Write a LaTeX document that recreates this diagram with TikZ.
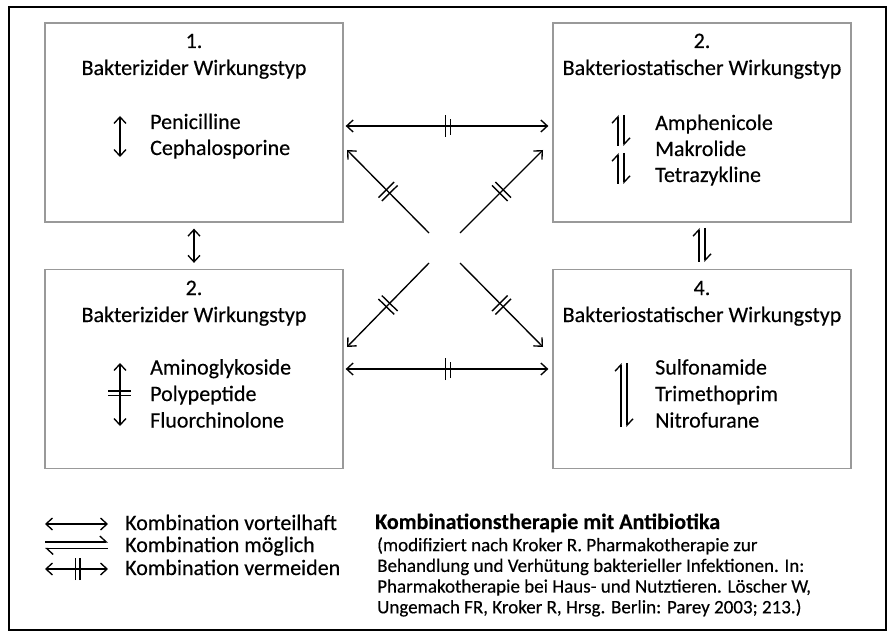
\documentclass[tikz,border=0pt]{standalone}
\usepackage{fontspec}
\setmainfont{Carlito}[FakeBold=0.35]
\usetikzlibrary{arrows.meta,decorations.markings}
\tikzset{
  x = 1pt,
  y = -1pt, % y runs down the page, as in the scan
  box/.style = { % 'box' node style for the four groups
    draw = gray!80, % light grey frame
    line width = 1.3pt,
    minimum width = 298pt, % all boxes the same size
    minimum height = 199pt,
    inner sep = 0pt,
  },
  txt/.style = { % common text settings
    font = \fontsize{22}{26}\selectfont,
    inner sep = 0pt,
  },
  head/.style = {txt, anchor = base}, % centred heading in a box
  drug/.style = {txt, anchor = base west}, % left aligned drug names
  link/.style = { % plain line with arrows
    line width = 1.35pt,
  },
  both/.style = { % arrow at each end
    link,
    {Straight Barb[length=6.5pt,width=12pt]}-{Straight Barb[length=6.5pt,width=12pt]},
  },
  one/.style = { % arrow at the end only
    link,
    -{Straight Barb[length=6.5pt,width=12pt]},
  },
  harp/.style = { % one sided tip (harpoon)
    link,
    -{Straight Barb[left,length=6.5pt,width=12pt]},
  },
  avoid/.style = { % two short bars across a line, at position #1
    postaction = decorate,
    decoration = {markings, mark = at position #1 with {
      \draw[-, line width=1.4pt] (-2.4pt,-11pt) -- (-2.4pt,11pt)
                                 (2.4pt,-11pt) -- (2.4pt,11pt);}},
  },
  avoid/.default = .5,
}

\begin{document}
\begin{tikzpicture}
    \useasboundingbox (0,0) rectangle (889,631);
    \draw[line width=1.3pt] (9,7) rectangle (886,630); % outer frame
    % the four boxes
    \node[box] (bz1) at (194,122.5) {};
    \node[box] (bz2) at (702,122.5) {};
    \node[box] (bz3) at (194,369) {};
    \node[box] (bz4) at (702,369) {};
    % headings (at their base lines)
    \node[head] (n1) at (194,48) {1.};
    \node[head] (h1) at (194,75) {Bakterizider Wirkungstyp};
    \node[head] (n2) at (702,48) {2.};
    \node[head] (h2) at (702,75) {Bakteriostatischer Wirkungstyp};
    \node[head] (n3) at (194,295) {2.};
    \node[head] (h3) at (194,322) {Bakterizider Wirkungstyp};
    \node[head] (n4) at (702,295) {4.};
    \node[head] (h4) at (702,322) {Bakteriostatischer Wirkungstyp};
    % drug lists
    \foreach \name [count=\i] in {Penicilline,Cephalosporine}{ % box 1
      \node[drug] (da\i) at (150,103+26*\i) {\name};
    } % end loop
    \foreach \name [count=\i] in {Amphenicole,Makrolide,Tetrazykline}{ % box 2
      \node[drug] (db\i) at (655,104+26*\i) {\name};
    } % end loop
    \foreach \name [count=\i] in {Aminoglykoside,Polypeptide,Fluorchinolone}{ % box 3
      \node[drug] (dc\i) at (150,348+26.5*\i) {\name};
    } % end loop
    \foreach \name [count=\i] in {Sulfonamide,Trimethoprim,Nitrofurane}{ % box 4
      \node[drug] (dd\i) at (655,348+26.5*\i) {\name};
    } % end loop
    % arrows inside the boxes
    \coordinate (a1) at (120,116); \coordinate (a2) at (120,157);
    \draw[both] (a1) -- (a2);
    \foreach \y in {115,153}{ % two harpoon pairs in box 2
      \coordinate (b1) at (618,\y+31); \coordinate (b2) at (618,\y);
      \coordinate (b3) at (624,\y); \coordinate (b4) at (624,\y+31);
      \draw[harp] (b1) -- (b2); % up
      \draw[harp] (b3) -- (b4); % down
    } % end loop
    \coordinate (c1) at (120,363); \coordinate (c2) at (120,426);
    \draw[both] (c1) -- (c2);
    \draw[line width=1.2pt] (108,391) -- (131,391) (108,395.5) -- (131,395.5); % bars
    \coordinate (e1) at (621,427); \coordinate (e2) at (621,363);
    \coordinate (e3) at (627,363); \coordinate (e4) at (627,427);
    \draw[harp] (e1) -- (e2);
    \draw[harp] (e3) -- (e4);
    % arrows between the boxes
    \path (bz1.south) ++(0,6) coordinate (v1) (bz3.north) ++(0,-6) coordinate (v2);
    \draw[both] (v1) -- (v2);
    \coordinate (w1) at (699,262); \coordinate (w2) at (699,228);
    \coordinate (w3) at (705,228); \coordinate (w4) at (705,262);
    \draw[harp] (w1) -- (w2);
    \draw[harp] (w3) -- (w4);
    \draw[both,avoid,shorten <=2pt,shorten >=4pt]
      ([yshift=-3.5pt]bz1.east) -- ([yshift=-3.5pt]bz2.west); % top
    \draw[both,avoid,shorten <=2pt,shorten >=4pt] (bz3.east) -- (bz4.west); % bottom
    % the cross in the middle
    \coordinate (x1) at (429,233); \coordinate (x2) at (460,233);
    \coordinate (x3) at (429,263); \coordinate (x4) at (460,263);
    \coordinate (t1) at (347,150); \coordinate (t2) at (543,150);
    \coordinate (t3) at (347,347); \coordinate (t4) at (543,347);
    \foreach \i in {1,2,3,4}{ % diagonal arrows
      \draw[one,avoid] (x\i) -- (t\i);
    } % end loop
    % legend
    \coordinate (l1) at (45,524); \coordinate (l2) at (108,524);
    \coordinate (l3) at (45,542); \coordinate (l4) at (108,542);
    \coordinate (l5) at (45,548.5); \coordinate (l6) at (108,548.5);
    \coordinate (l7) at (45,569); \coordinate (l8) at (108,569);
    \draw[both] (l1) -- (l2);
    \draw[harp] (l3) -- (l4);
    \draw[harp] (l6) -- (l5);
    \draw[both,avoid=.52] (l7) -- (l8);
    \node[drug] (k1) at (125,530) {Kombination vorteilhaft};
    \node[drug] (k2) at (125,552) {Kombination möglich};
    \node[drug] (k3) at (125,575) {Kombination vermeiden};
    % source
    \node[drug,font=\fontsize{22}{26}\selectfont\bfseries] (ttl) at (375,529)
      {Kombinationstherapie mit Antibiotika};
    \foreach \line [count=\i] in {%
      {(modifiziert nach Kroker R. Pharmakotherapie zur},
      {Behandlung und Verhütung bakterieller Infektionen. In:},
      {Pharmakotherapie bei Haus- und Nutztieren. Löscher W,},
      {Ungemach FR, Kroker R, Hrsg. Berlin: Parey 2003; 213.)}}{ % reference lines
      \node[drug,font=\fontsize{19}{23}\selectfont] (r\i) at (377,530.5+20.7*\i) {\line};
    } % end loop
\end{tikzpicture}
\end{document}
